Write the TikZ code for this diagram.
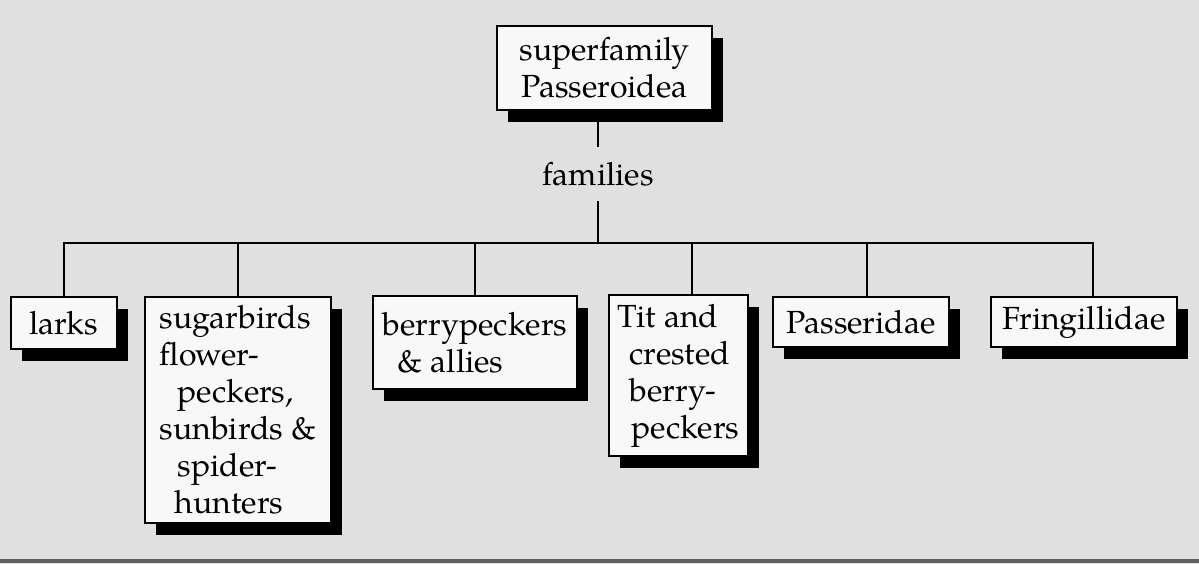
\documentclass[tikz,border=0pt]{standalone}
\usepackage{fontspec}
\setmainfont{TeX Gyre Pagella}
\usetikzlibrary{shadows}
\definecolor{bg}{RGB}{224,224,224}
\definecolor{boxw}{RGB}{248,248,248}
\definecolor{band}{RGB}{96,96,96}
\begin{document}
\begin{tikzpicture}[x=0.5pt,y=-0.5pt,
  box/.style={draw=black, line width=1pt, fill=boxw, inner sep=0pt, anchor=north west,
    align=left, font=\fontsize{16}{18.5}\selectfont,
    drop shadow={shadow xshift=5.5pt, shadow yshift=-6pt, fill=black, opacity=1}},
  lbl/.style={inner sep=0pt, font=\fontsize{16}{18.5}\selectfont},
  conn/.style={line width=1pt}]
\useasboundingbox (0,0) rectangle (1199,564);
\fill[bg] (0,0) rectangle (1199,564);
\fill[band] (0,559) rectangle (1199,563);

\node[box, minimum width=107.5pt, minimum height=42pt, align=center] (top) at (496,25) {superfamily\\Passeroidea};
\node[lbl, minimum height=27pt] (fam) at (598,174) {families};
\coordinate (bar) at (598,243);

\node[box, minimum width=53pt, minimum height=26pt] (larks) at (10,296) {larks};
\node[box, minimum width=93pt, minimum height=113pt] (sugar) at (144,296)
  {sugarbirds\\flower-\\\hspace*{9pt}peckers,\\sunbirds \&\\\hspace*{9pt}spider-\\\hspace*{7.5pt}hunters};
\node[box, minimum width=102pt, minimum height=46.5pt] (berry) at (372,295)
  {berrypeckers\\\hspace*{7.5pt}\& allies};
\node[box, minimum width=69.5pt, minimum height=80.5pt] (tit) at (608,294)
  {Tit and\\\hspace*{6pt}crested\\\hspace*{6pt}berry-\\\hspace*{7pt}peckers};
\node[box, minimum width=88pt, minimum height=25pt] (pass) at (772,296) {Passeridae};
\node[box, minimum width=93pt, minimum height=25pt] (fring) at (990,296) {Fringillidae};

\coordinate (dtit) at ([xshift=6.75pt]tit.north);
\coordinate (dpass) at ([xshift=3pt]pass.north);
\coordinate (dfring) at ([xshift=4.5pt]fring.north);

\draw[conn] (fam.north |- top.south) -- (fam.north);
\draw[conn] (fam.south) -- (bar);
\draw[conn] (larks.north) |- (bar) -| (dfring);
\draw[conn] (sugar.north) -- (sugar.north |- bar);
\draw[conn] (berry.north) -- (berry.north |- bar);
\draw[conn] (dtit) -- (dtit |- bar);
\draw[conn] (dpass) -- (dpass |- bar);
\end{tikzpicture}
\end{document}
